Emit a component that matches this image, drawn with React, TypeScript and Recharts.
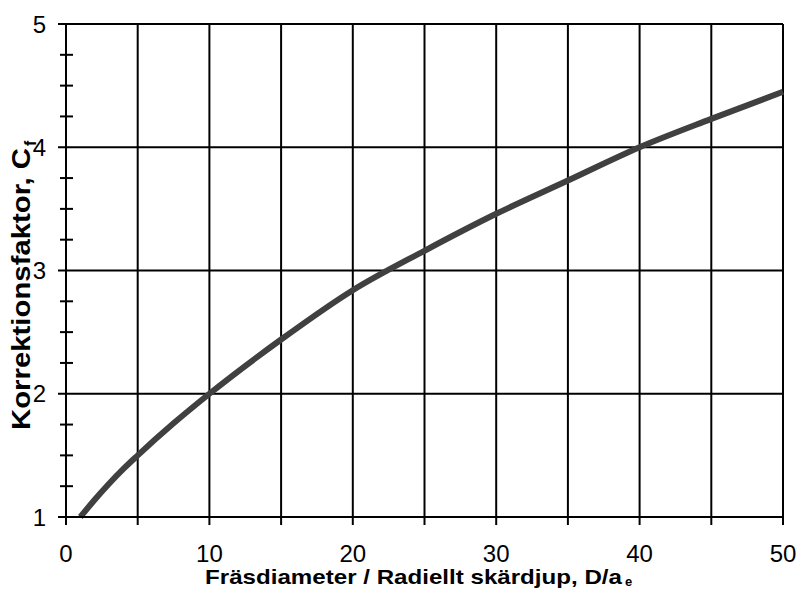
import React from "react";
import {
  LineChart,
  Line,
  XAxis,
  YAxis,
  CartesianGrid,
  ReferenceLine,
} from "recharts";

// ─── Data ─────────────────────────────────────────────────────────────────────

const ratio = [1, 2, 3, 4, 5, 7.5, 10, 15, 20, 25, 30, 35, 40, 45, 50]; // D/ae
const factor = [1.0, 1.14, 1.27, 1.39, 1.5, 1.76, 2.0, 2.44, 2.84, 3.16, 3.46, 3.73, 4.0, 4.23, 4.45]; // Cf

const xTicks = [0, 5, 10, 15, 20, 25, 30, 35, 40, 45, 50];
const yMajor = [1, 2, 3, 4, 5];
const yTicks = [1, 1.25, 1.5, 1.75, 2, 2.25, 2.5, 2.75, 3, 3.25, 3.5, 3.75, 4, 4.25, 4.5, 4.75, 5];

const data = ratio.map((d, i) => ({ d, c: factor[i] }));

const FONT = "'Liberation Sans', Arial, sans-serif";

// ─── Ticks ────────────────────────────────────────────────────────────────────

function XTick(props: any) {
  const { x, y, payload } = props;
  if (payload.value % 10 !== 0) return null;
  return (
    <text x={x} y={y + 35} textAnchor="middle" fontSize={24} fontFamily={FONT} fill="#000">
      {payload.value}
    </text>
  );
}

function YTick(props: any) {
  const { x, y, payload } = props;
  const major = Number.isInteger(payload.value);
  if (major) {
    return (
      <g>
        <line x1={x - 8} x2={x} y1={y} y2={y} stroke="#000" strokeWidth={2} />
        <text x={x - 20} y={y + 8.6} textAnchor="end" fontSize={24} fontFamily={FONT} fill="#000">
          {payload.value}
        </text>
      </g>
    );
  }
  return <line x1={x - 6} x2={x + 7} y1={y} y2={y} stroke="#000" strokeWidth={2} />;
}

// ─── Chart ────────────────────────────────────────────────────────────────────

export default function App() {
  return (
    <div style={{ position: "absolute", left: 0, top: 0, width: 800, height: 589, background: "#fff" }}>
      <LineChart width={800} height={589} data={data} margin={{ top: 24, right: 17, bottom: 0, left: 0 }}>
        <CartesianGrid horizontal={false} stroke="#000" strokeWidth={2} strokeOpacity={1} />
        {yMajor.map((v) => (
          <ReferenceLine key={v} y={v} stroke="#000" strokeWidth={2} />
        ))}
        <XAxis
          dataKey="d"
          type="number"
          domain={[0, 50]}
          ticks={xTicks}
          interval={0}
          height={72}
          tickSize={8}
          axisLine={{ stroke: "#000", strokeWidth: 2 }}
          tickLine={{ stroke: "#000", strokeWidth: 2 }}
          tick={<XTick />}
        />
        <YAxis
          type="number"
          domain={[1, 5]}
          ticks={yTicks}
          interval={0}
          width={66}
          tickSize={0}
          tickMargin={0}
          tickLine={false}
          axisLine={{ stroke: "#000", strokeWidth: 2 }}
          tick={<YTick />}
        />
        <Line
          type="monotone"
          dataKey="c"
          stroke="#404040"
          strokeWidth={6}
          dot={false}
          activeDot={false}
          isAnimationActive={false}
        />
      </LineChart>
      <svg
        width={800}
        height={589}
        style={{ position: "absolute", left: 0, top: 0, pointerEvents: "none" }}
      >
        <g fontFamily={FONT} fontWeight="bold" fill="#000">
          <text x={205} y={584} fontSize={21} textLength={417} lengthAdjust="spacingAndGlyphs">
            Fräsdiameter / Radiellt skärdjup, D/a
          </text>
          <text x={625} y={586} fontSize={13}>e</text>
          <text transform="translate(30,430) rotate(-90)" fontSize={25} textLength={282} lengthAdjust="spacingAndGlyphs">
            Korrektionsfaktor, C
          </text>
          <text transform="translate(36,146) rotate(-90)" fontSize={16}>f</text>
        </g>
      </svg>
    </div>
  );
}
